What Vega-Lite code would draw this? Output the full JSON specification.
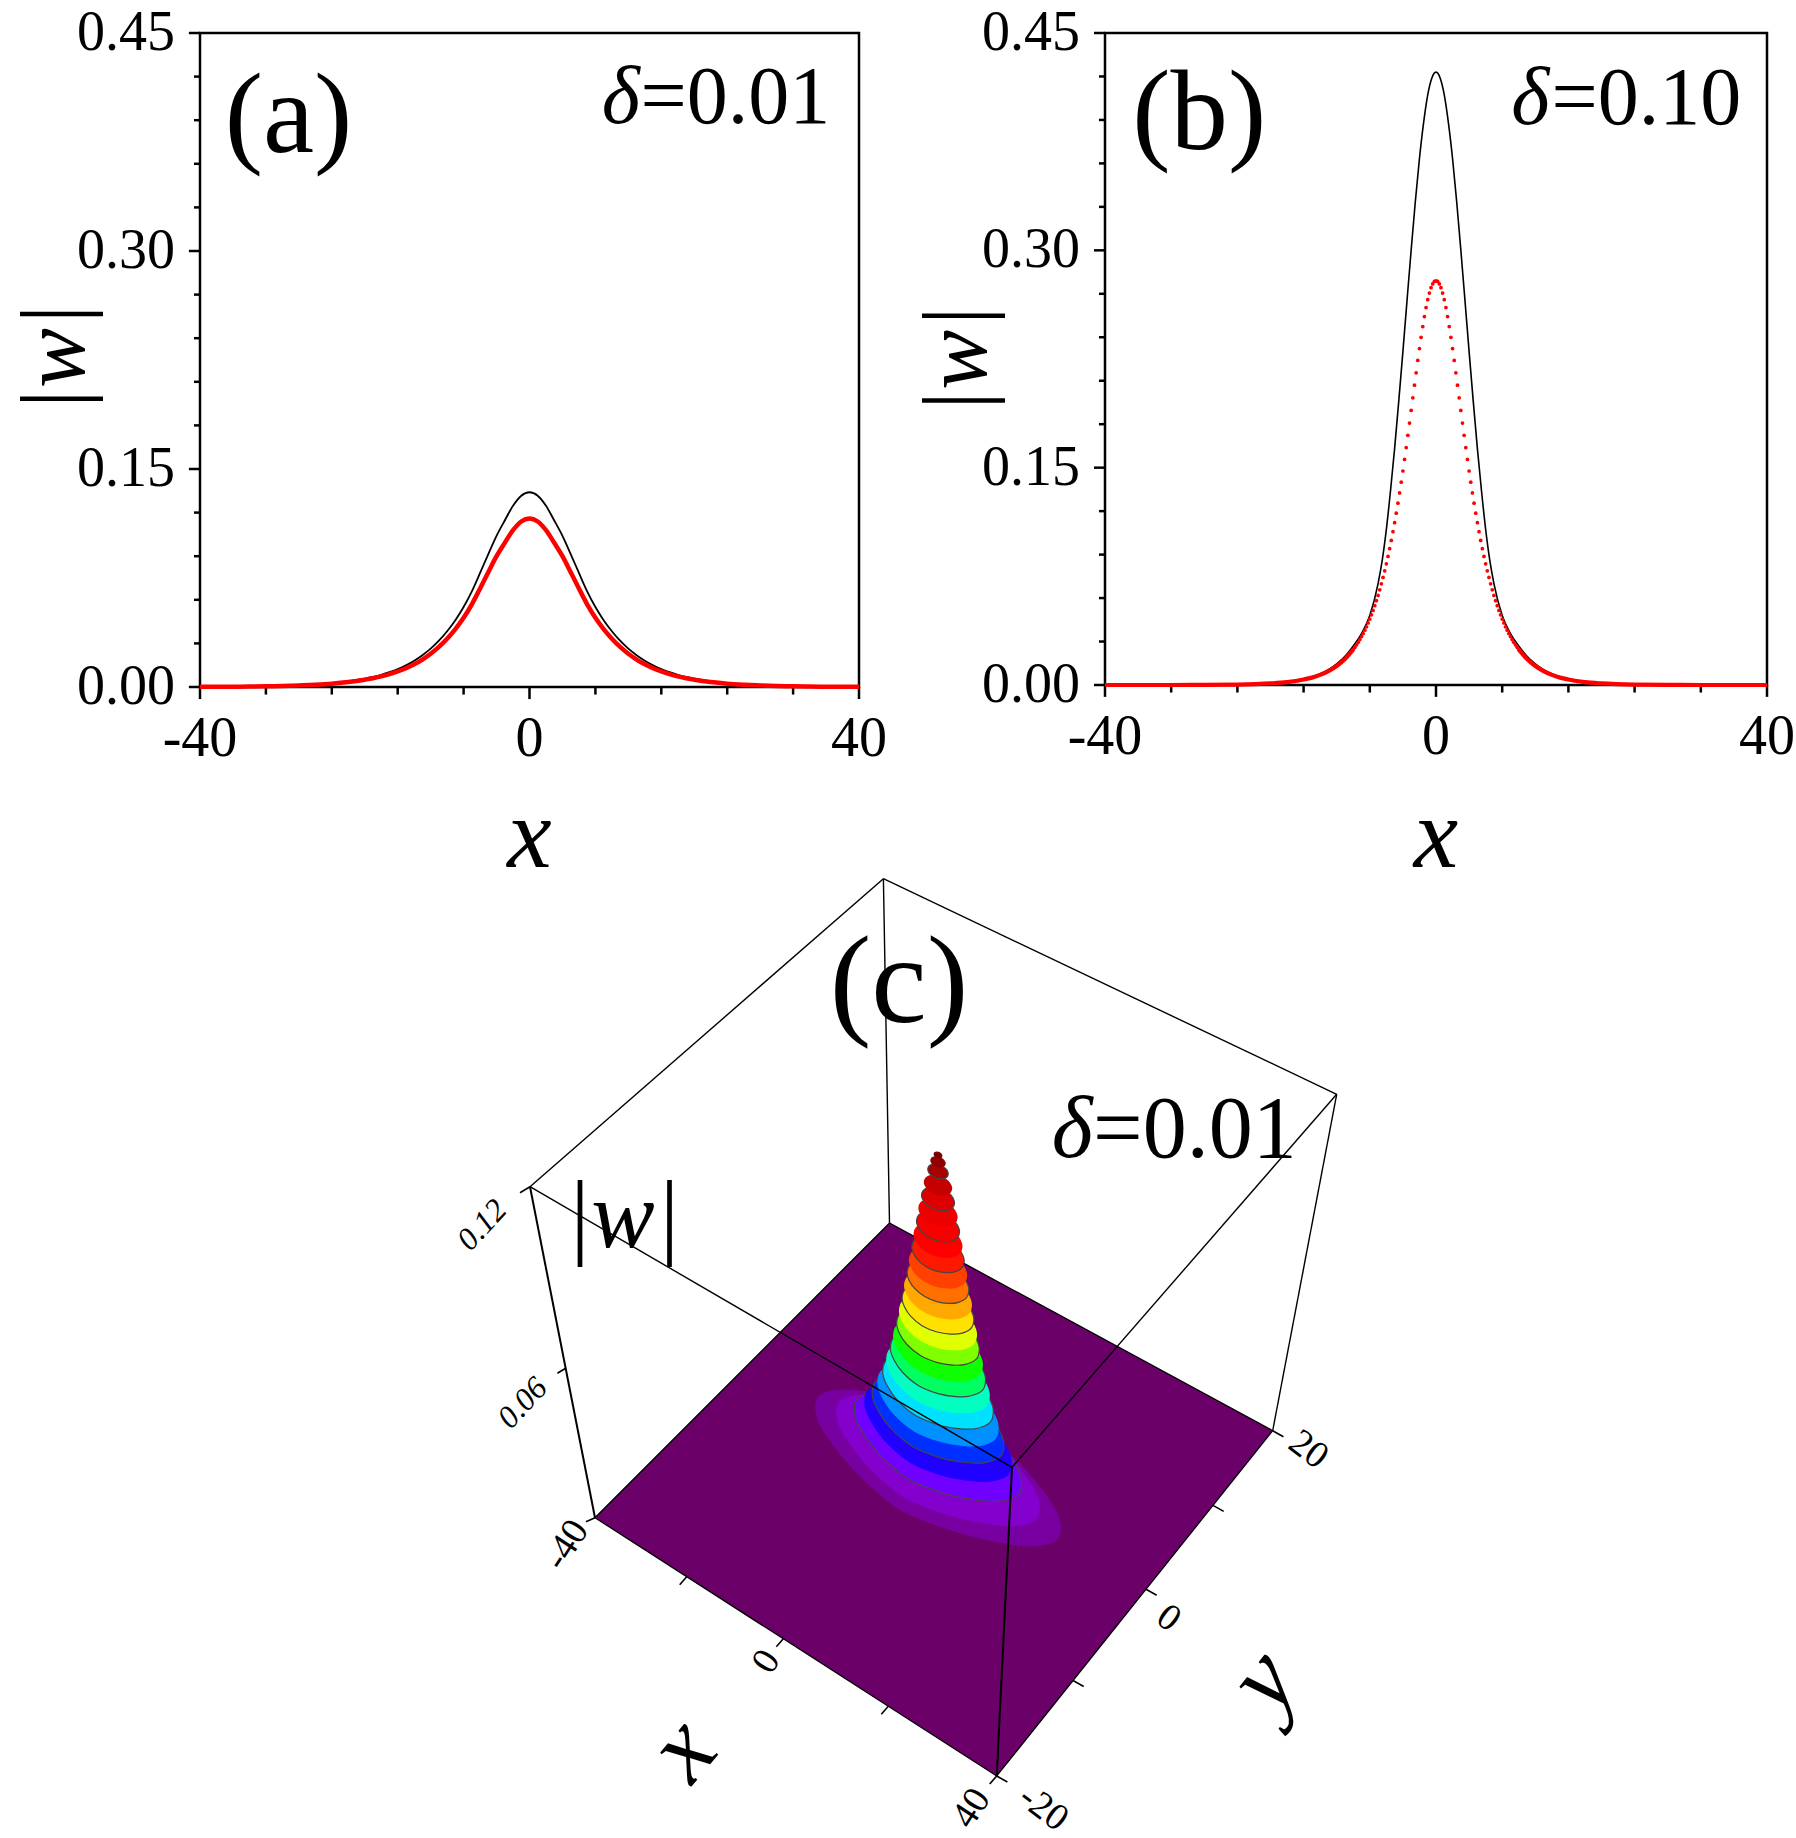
{
  "$schema": "https://vega.github.io/schema/vega-lite/v6.json",
  "width": 1796,
  "height": 1838,
  "autosize": {"type": "none"},
  "padding": 0,
  "background": "white",
  "config": {
    "view": {"stroke": null},
    "text": {"font": "Liberation Serif", "color": "#000"}
  },
  "datasets": {
    "one": [{"n": 1}],
    "majY": [{"y":0},{"y":0.15},{"y":0.3},{"y":0.45}],
    "majX": [{"x":-40,"l":"-40"},{"x":0,"l":"0"},{"x":40,"l":"40"}],
    "minorY": [{"y":0.03},{"y":0.06},{"y":0.09},{"y":0.12},{"y":0.18},{"y":0.21},{"y":0.24},{"y":0.27},{"y":0.33},{"y":0.36},{"y":0.39},{"y":0.42}],
    "minorX": [{"x":-32},{"x":-24},{"x":-16},{"x":-8},{"x":8},{"x":16},{"x":24},{"x":32}],
    "a": [
      {"x":-40,"b":0.0001,"r":0.0001},{"x":-38,"b":0.0002,"r":0.0002},{"x":-36,"b":0.0003,"r":0.0002},{"x":-34,"b":0.0004,"r":0.0003},
      {"x":-32,"b":0.0006,"r":0.0005},{"x":-30,"b":0.0008,"r":0.0007},{"x":-28,"b":0.0012,"r":0.0011},{"x":-26,"b":0.0018,"r":0.0016},
      {"x":-24,"b":0.0027,"r":0.0023},{"x":-22,"b":0.0039,"r":0.0034},{"x":-20,"b":0.0057,"r":0.005},{"x":-19,"b":0.0069,"r":0.006},
      {"x":-18,"b":0.0084,"r":0.0073},{"x":-17,"b":0.0102,"r":0.0088},{"x":-16,"b":0.0123,"r":0.0107},{"x":-15,"b":0.0149,"r":0.0129},
      {"x":-14,"b":0.0181,"r":0.0156},{"x":-13,"b":0.0219,"r":0.0189},{"x":-12,"b":0.0264,"r":0.0229},{"x":-11,"b":0.0319,"r":0.0276},
      {"x":-10,"b":0.0384,"r":0.0332},{"x":-9,"b":0.046,"r":0.0398},{"x":-8,"b":0.055,"r":0.0476},{"x":-7,"b":0.0658,"r":0.0569},
      {"x":-6,"b":0.0785,"r":0.0678},{"x":-5,"b":0.0915,"r":0.079},{"x":-4,"b":0.104,"r":0.09},{"x":-3,"b":0.1146,"r":0.0992},
      {"x":-2,"b":0.1247,"r":0.1079},{"x":-1,"b":0.1316,"r":0.1139},{"x":0,"b":0.134,"r":0.116},
      {"x":1,"b":0.1316,"r":0.1139},{"x":2,"b":0.1247,"r":0.1079},{"x":3,"b":0.1146,"r":0.0992},{"x":4,"b":0.104,"r":0.09},
      {"x":5,"b":0.0915,"r":0.079},{"x":6,"b":0.0785,"r":0.0678},{"x":7,"b":0.0658,"r":0.0569},{"x":8,"b":0.055,"r":0.0476},
      {"x":9,"b":0.046,"r":0.0398},{"x":10,"b":0.0384,"r":0.0332},{"x":11,"b":0.0319,"r":0.0276},{"x":12,"b":0.0264,"r":0.0229},
      {"x":13,"b":0.0219,"r":0.0189},{"x":14,"b":0.0181,"r":0.0156},{"x":15,"b":0.0149,"r":0.0129},{"x":16,"b":0.0123,"r":0.0107},
      {"x":17,"b":0.0102,"r":0.0088},{"x":18,"b":0.0084,"r":0.0073},{"x":19,"b":0.0069,"r":0.006},{"x":20,"b":0.0057,"r":0.005},
      {"x":22,"b":0.0039,"r":0.0034},{"x":24,"b":0.0027,"r":0.0023},{"x":26,"b":0.0018,"r":0.0016},{"x":28,"b":0.0012,"r":0.0011},
      {"x":30,"b":0.0008,"r":0.0007},{"x":32,"b":0.0006,"r":0.0005},{"x":34,"b":0.0004,"r":0.0003},{"x":36,"b":0.0003,"r":0.0002},
      {"x":38,"b":0.0002,"r":0.0002},{"x":40,"b":0.0001,"r":0.0001}
    ],
    "bb": [
      {"x":-40,"b":0},{"x":-36,"b":0},{"x":-32,"b":0},{"x":-28,"b":0.0001},{"x":-24,"b":0.0003},{"x":-20,"b":0.0012},
      {"x":-18,"b":0.0022},{"x":-16,"b":0.0041},{"x":-15,"b":0.0056},{"x":-14,"b":0.0077},{"x":-13,"b":0.0105},{"x":-12,"b":0.0145},
      {"x":-11,"b":0.0198},{"x":-10,"b":0.027},{"x":-9,"b":0.0355},{"x":-8,"b":0.048},{"x":-7,"b":0.07},{"x":-6.5,"b":0.086},
      {"x":-6,"b":0.1074},{"x":-5.5,"b":0.1339},{"x":-5,"b":0.1633},{"x":-4.5,"b":0.1959},{"x":-4,"b":0.2301},{"x":-3.5,"b":0.2655},
      {"x":-3,"b":0.3003},{"x":-2.5,"b":0.3335},{"x":-2,"b":0.3634},{"x":-1.5,"b":0.388},{"x":-1,"b":0.4073},{"x":-0.5,"b":0.419},
      {"x":0,"b":0.423},
      {"x":0.5,"b":0.419},{"x":1,"b":0.4073},{"x":1.5,"b":0.388},{"x":2,"b":0.3634},{"x":2.5,"b":0.3335},{"x":3,"b":0.3003},
      {"x":3.5,"b":0.2655},{"x":4,"b":0.2301},{"x":4.5,"b":0.1959},{"x":5,"b":0.1633},{"x":5.5,"b":0.1339},{"x":6,"b":0.1074},
      {"x":6.5,"b":0.086},{"x":7,"b":0.07},{"x":8,"b":0.048},{"x":9,"b":0.0355},{"x":10,"b":0.027},{"x":11,"b":0.0198},
      {"x":12,"b":0.0145},{"x":13,"b":0.0105},{"x":14,"b":0.0077},{"x":15,"b":0.0056},{"x":16,"b":0.0041},{"x":18,"b":0.0022},
      {"x":20,"b":0.0012},{"x":24,"b":0.0003},{"x":28,"b":0.0001},{"x":32,"b":0},{"x":36,"b":0},{"x":40,"b":0}
    ],
    "bd": [
      {"x":-10,"r":0.0245},{"x":-9.8,"r":0.026},{"x":-9.6,"r":0.0277},{"x":-9.4,"r":0.0295},{"x":-9.2,"r":0.0314},{"x":-9,"r":0.0334},
      {"x":-8.8,"r":0.0355},{"x":-8.6,"r":0.0378},{"x":-8.4,"r":0.0402},{"x":-8.2,"r":0.0428},{"x":-8,"r":0.0455},{"x":-7.8,"r":0.0484},
      {"x":-7.6,"r":0.0515},{"x":-7.4,"r":0.0547},{"x":-7.2,"r":0.0582},{"x":-7,"r":0.0618},{"x":-6.8,"r":0.0657},{"x":-6.6,"r":0.0698},
      {"x":-6.4,"r":0.0742},{"x":-6.2,"r":0.0788},{"x":-6,"r":0.0836},{"x":-5.8,"r":0.0887},{"x":-5.6,"r":0.0941},{"x":-5.4,"r":0.0998},
      {"x":-5.2,"r":0.1058},{"x":-5,"r":0.112},{"x":-4.8,"r":0.1186},{"x":-4.6,"r":0.1255},{"x":-4.4,"r":0.1326},{"x":-4.2,"r":0.14},
      {"x":-4,"r":0.1477},{"x":-3.8,"r":0.1557},{"x":-3.6,"r":0.1639},{"x":-3.4,"r":0.1723},{"x":-3.2,"r":0.1808},{"x":-3,"r":0.1895},
      {"x":-2.8,"r":0.1982},{"x":-2.6,"r":0.2069},{"x":-2.4,"r":0.2155},{"x":-2.2,"r":0.224},{"x":-2,"r":0.2322},{"x":-1.8,"r":0.24},
      {"x":-1.6,"r":0.2474},{"x":-1.4,"r":0.2543},{"x":-1.2,"r":0.2605},{"x":-1,"r":0.2659},{"x":-0.8,"r":0.2705},{"x":-0.6,"r":0.2742},
      {"x":-0.4,"r":0.2768},{"x":-0.2,"r":0.2785},{"x":0,"r":0.279},
      {"x":0.2,"r":0.2785},{"x":0.4,"r":0.2768},{"x":0.6,"r":0.2742},{"x":0.8,"r":0.2705},{"x":1,"r":0.2659},{"x":1.2,"r":0.2605},
      {"x":1.4,"r":0.2543},{"x":1.6,"r":0.2474},{"x":1.8,"r":0.24},{"x":2,"r":0.2322},{"x":2.2,"r":0.224},{"x":2.4,"r":0.2155},
      {"x":2.6,"r":0.2069},{"x":2.8,"r":0.1982},{"x":3,"r":0.1895},{"x":3.2,"r":0.1808},{"x":3.4,"r":0.1723},{"x":3.6,"r":0.1639},
      {"x":3.8,"r":0.1557},{"x":4,"r":0.1477},{"x":4.2,"r":0.14},{"x":4.4,"r":0.1326},{"x":4.6,"r":0.1255},{"x":4.8,"r":0.1186},
      {"x":5,"r":0.112},{"x":5.2,"r":0.1058},{"x":5.4,"r":0.0998},{"x":5.6,"r":0.0941},{"x":5.8,"r":0.0887},{"x":6,"r":0.0836},
      {"x":6.2,"r":0.0788},{"x":6.4,"r":0.0742},{"x":6.6,"r":0.0698},{"x":6.8,"r":0.0657},{"x":7,"r":0.0618},{"x":7.2,"r":0.0582},
      {"x":7.4,"r":0.0547},{"x":7.6,"r":0.0515},{"x":7.8,"r":0.0484},{"x":8,"r":0.0455},{"x":8.2,"r":0.0428},{"x":8.4,"r":0.0402},
      {"x":8.6,"r":0.0378},{"x":8.8,"r":0.0355},{"x":9,"r":0.0334},{"x":9.2,"r":0.0314},{"x":9.4,"r":0.0295},{"x":9.6,"r":0.0277},
      {"x":9.8,"r":0.026},{"x":10,"r":0.0245}
    ],
    "bt": [
      {"s":"L","x":-40,"r":0},{"s":"L","x":-36,"r":0},{"s":"L","x":-32,"r":0},{"s":"L","x":-28,"r":0.0001},{"s":"L","x":-24,"r":0.0003},
      {"s":"L","x":-20,"r":0.0011},{"s":"L","x":-18,"r":0.002},{"s":"L","x":-16,"r":0.0038},{"s":"L","x":-15,"r":0.0051},{"s":"L","x":-14,"r":0.007},
      {"s":"L","x":-13,"r":0.0096},{"s":"L","x":-12,"r":0.0131},{"s":"L","x":-11,"r":0.0179},{"s":"L","x":-10,"r":0.0245},
      {"s":"R","x":10,"r":0.0245},{"s":"R","x":11,"r":0.0179},{"s":"R","x":12,"r":0.0131},{"s":"R","x":13,"r":0.0096},{"s":"R","x":14,"r":0.007},
      {"s":"R","x":15,"r":0.0051},{"s":"R","x":16,"r":0.0038},{"s":"R","x":18,"r":0.002},{"s":"R","x":20,"r":0.0011},{"s":"R","x":24,"r":0.0003},
      {"s":"R","x":28,"r":0.0001},{"s":"R","x":32,"r":0},{"s":"R","x":36,"r":0},{"s":"R","x":40,"r":0}
    ],
    "floor": [
      {"u":-34.3,"v":-4.37},{"u":5.87,"v":-30.2},{"u":33.47,"v":4.33},{"u":-4.85,"v":25.1}
    ],
    "discs": [
      {"k":"01","u":11.92,"v":-6.48},{"k":"01","u":12.03,"v":-4.36},{"k":"01","u":10.6,"v":-1.91},{"k":"01","u":7.95,"v":1.21},
      {"k":"01","u":3.81,"v":4.73},{"k":"01","u":-1.58,"v":6.88},{"k":"01","u":-6.08,"v":8.01},{"k":"01","u":-9.42,"v":8.39},
      {"k":"01","u":-11.92,"v":7.69},{"k":"01","u":-12.03,"v":5.57},{"k":"01","u":-10.6,"v":3.12},{"k":"01","u":-7.95,"v":0},
      {"k":"01","u":-3.81,"v":-3.52},{"k":"01","u":1.58,"v":-5.67},{"k":"01","u":6.08,"v":-6.8},{"k":"01","u":9.42,"v":-7.18},
      {"k":"02","u":9.82,"v":-4.46},{"k":"02","u":10.02,"v":-2.6},{"k":"02","u":8.92,"v":-0.5},{"k":"02","u":6.8,"v":2.15},
      {"k":"02","u":3.39,"v":5.05},{"k":"02","u":-1.05,"v":6.82},{"k":"02","u":-4.83,"v":7.68},{"k":"02","u":-7.65,"v":7.91},
      {"k":"02","u":-9.82,"v":7.21},{"k":"02","u":-10.02,"v":5.35},{"k":"02","u":-8.92,"v":3.25},{"k":"02","u":-6.8,"v":0.6},
      {"k":"02","u":-3.39,"v":-2.3},{"k":"02","u":1.05,"v":-4.07},{"k":"02","u":4.83,"v":-4.93},{"k":"02","u":7.65,"v":-5.16},
      {"k":"03","u":8.05,"v":-2.03},{"k":"03","u":8.31,"v":-0.4},{"k":"03","u":7.48,"v":1.4},{"k":"03","u":5.79,"v":3.62},
      {"k":"03","u":3,"v":5.99},{"k":"03","u":-0.65,"v":7.45},{"k":"03","u":-3.79,"v":8.1},{"k":"03","u":-6.17,"v":8.21},
      {"k":"03","u":-8.05,"v":7.53},{"k":"03","u":-8.31,"v":5.9},{"k":"03","u":-7.48,"v":4.1},{"k":"03","u":-5.79,"v":1.88},
      {"k":"03","u":-3,"v":-0.49},{"k":"03","u":0.65,"v":-1.95},{"k":"03","u":3.79,"v":-2.6},{"k":"03","u":6.17,"v":-2.71},
      {"k":"04","u":7,"v":-0.04},{"k":"04","u":7.3,"v":1.45},{"k":"04","u":6.62,"v":3.06},{"k":"04","u":5.18,"v":5.03},
      {"k":"04","u":2.74,"v":7.09},{"k":"04","u":-0.43,"v":8.36},{"k":"04","u":-3.19,"v":8.9},{"k":"04","u":-5.31,"v":8.95},
      {"k":"04","u":-7,"v":8.29},{"k":"04","u":-7.3,"v":6.8},{"k":"04","u":-6.62,"v":5.19},{"k":"04","u":-5.18,"v":3.22},
      {"k":"04","u":-2.74,"v":1.16},{"k":"04","u":0.43,"v":-0.11},{"k":"04","u":3.19,"v":-0.65},{"k":"04","u":5.31,"v":-0.7},
      {"k":"05","u":6.26,"v":1.78},{"k":"05","u":6.57,"v":3.16},{"k":"05","u":5.99,"v":4.64},{"k":"05","u":4.72,"v":6.41},
      {"k":"05","u":2.54,"v":8.25},{"k":"05","u":-0.29,"v":9.39},{"k":"05","u":-2.77,"v":9.85},{"k":"05","u":-4.7,"v":9.87},
      {"k":"05","u":-6.26,"v":9.22},{"k":"05","u":-6.57,"v":7.84},{"k":"05","u":-5.99,"v":6.36},{"k":"05","u":-4.72,"v":4.59},
      {"k":"05","u":-2.54,"v":2.75},{"k":"05","u":0.29,"v":1.61},{"k":"05","u":2.77,"v":1.15},{"k":"05","u":4.7,"v":1.14},
      {"k":"06","u":5.68,"v":3.5},{"k":"06","u":6,"v":4.8},{"k":"06","u":5.5,"v":6.16},{"k":"06","u":4.36,"v":7.78},
      {"k":"06","u":2.37,"v":9.44},{"k":"06","u":-0.19,"v":10.48},{"k":"06","u":-2.45,"v":10.89},{"k":"06","u":-4.22,"v":10.88},
      {"k":"06","u":-5.68,"v":10.25},{"k":"06","u":-6,"v":8.95},{"k":"06","u":-5.5,"v":7.59},{"k":"06","u":-4.36,"v":5.97},
      {"k":"06","u":-2.37,"v":4.31},{"k":"06","u":0.19,"v":3.27},{"k":"06","u":2.45,"v":2.86},{"k":"06","u":4.22,"v":2.87},
      {"k":"07","u":5.2,"v":5.16},{"k":"07","u":5.53,"v":6.38},{"k":"07","u":5.09,"v":7.65},{"k":"07","u":4.05,"v":9.14},
      {"k":"07","u":2.23,"v":10.66},{"k":"07","u":-0.11,"v":11.62},{"k":"07","u":-2.2,"v":11.98},{"k":"07","u":-3.84,"v":11.95},
      {"k":"07","u":-5.2,"v":11.34},{"k":"07","u":-5.53,"v":10.12},{"k":"07","u":-5.09,"v":8.85},{"k":"07","u":-4.05,"v":7.36},
      {"k":"07","u":-2.23,"v":5.84},{"k":"07","u":0.11,"v":4.89},{"k":"07","u":2.2,"v":4.52},{"k":"07","u":3.84,"v":4.55},
      {"k":"08","u":4.79,"v":6.78},{"k":"08","u":5.12,"v":7.93},{"k":"08","u":4.73,"v":9.12},{"k":"08","u":3.78,"v":10.5},
      {"k":"08","u":2.1,"v":11.9},{"k":"08","u":-0.06,"v":12.78},{"k":"08","u":-1.98,"v":13.11},{"k":"08","u":-3.51,"v":13.06},
      {"k":"08","u":-4.79,"v":12.48},{"k":"08","u":-5.12,"v":11.32},{"k":"08","u":-4.73,"v":10.14},{"k":"08","u":-3.78,"v":8.75},
      {"k":"08","u":-2.1,"v":7.36},{"k":"08","u":0.06,"v":6.47},{"k":"08","u":1.98,"v":6.15},{"k":"08","u":3.51,"v":6.19},
      {"k":"09","u":4.43,"v":8.36},{"k":"09","u":4.76,"v":9.46},{"k":"09","u":4.41,"v":10.57},{"k":"09","u":3.53,"v":11.85},
      {"k":"09","u":1.98,"v":13.14},{"k":"09","u":-0.01,"v":13.96},{"k":"09","u":-1.8,"v":14.26},{"k":"09","u":-3.22,"v":14.2},
      {"k":"09","u":-4.43,"v":13.64},{"k":"09","u":-4.76,"v":12.54},{"k":"09","u":-4.41,"v":11.43},{"k":"09","u":-3.53,"v":10.15},
      {"k":"09","u":-1.98,"v":8.86},{"k":"09","u":0.01,"v":8.04},{"k":"09","u":1.8,"v":7.74},{"k":"09","u":3.22,"v":7.8},
      {"k":"10","u":4.11,"v":9.93},{"k":"10","u":4.43,"v":10.97},{"k":"10","u":4.12,"v":12.01},{"k":"10","u":3.31,"v":13.2},
      {"k":"10","u":1.87,"v":14.4},{"k":"10","u":0.02,"v":15.16},{"k":"10","u":-1.64,"v":15.43},{"k":"10","u":-2.97,"v":15.37},
      {"k":"10","u":-4.11,"v":14.82},{"k":"10","u":-4.43,"v":13.78},{"k":"10","u":-4.12,"v":12.74},{"k":"10","u":-3.31,"v":11.55},
      {"k":"10","u":-1.87,"v":10.36},{"k":"10","u":-0.02,"v":9.59},{"k":"10","u":1.64,"v":9.32},{"k":"10","u":2.97,"v":9.39},
      {"k":"11","u":3.82,"v":11.48},{"k":"11","u":4.13,"v":12.46},{"k":"11","u":3.85,"v":13.44},{"k":"11","u":3.1,"v":14.55},
      {"k":"11","u":1.76,"v":15.66},{"k":"11","u":0.05,"v":16.36},{"k":"11","u":-1.49,"v":16.61},{"k":"11","u":-2.74,"v":16.55},
      {"k":"11","u":-3.82,"v":16.02},{"k":"11","u":-4.13,"v":15.04},{"k":"11","u":-3.85,"v":14.06},{"k":"11","u":-3.1,"v":12.95},
      {"k":"11","u":-1.76,"v":11.85},{"k":"11","u":-0.05,"v":11.14},{"k":"11","u":1.49,"v":10.89},{"k":"11","u":2.74,"v":10.96},
      {"k":"12","u":3.54,"v":13.02},{"k":"12","u":3.85,"v":13.95},{"k":"12","u":3.6,"v":14.86},{"k":"12","u":2.91,"v":15.89},
      {"k":"12","u":1.66,"v":16.92},{"k":"12","u":0.07,"v":17.58},{"k":"12","u":-1.36,"v":17.81},{"k":"12","u":-2.53,"v":17.74},
      {"k":"12","u":-3.54,"v":17.23},{"k":"12","u":-3.85,"v":16.3},{"k":"12","u":-3.6,"v":15.39},{"k":"12","u":-2.91,"v":14.36},
      {"k":"12","u":-1.66,"v":13.33},{"k":"12","u":-0.07,"v":12.67},{"k":"12","u":1.36,"v":12.44},{"k":"12","u":2.53,"v":12.51},
      {"k":"13","u":3.29,"v":14.55},{"k":"13","u":3.59,"v":15.42},{"k":"13","u":3.36,"v":16.28},{"k":"13","u":2.72,"v":17.24},
      {"k":"13","u":1.56,"v":18.19},{"k":"13","u":0.09,"v":18.8},{"k":"13","u":-1.24,"v":19.02},{"k":"13","u":-2.33,"v":18.94},
      {"k":"13","u":-3.29,"v":18.46},{"k":"13","u":-3.59,"v":17.58},{"k":"13","u":-3.36,"v":16.72},{"k":"13","u":-2.72,"v":15.76},
      {"k":"13","u":-1.56,"v":14.81},{"k":"13","u":-0.09,"v":14.2},{"k":"13","u":1.24,"v":13.99},{"k":"13","u":2.33,"v":14.06},
      {"k":"14","u":3.05,"v":16.06},{"k":"14","u":3.34,"v":16.89},{"k":"14","u":3.13,"v":17.69},{"k":"14","u":2.54,"v":18.58},
      {"k":"14","u":1.46,"v":19.46},{"k":"14","u":0.1,"v":20.03},{"k":"14","u":-1.13,"v":20.22},{"k":"14","u":-2.15,"v":20.15},
      {"k":"14","u":-3.05,"v":19.69},{"k":"14","u":-3.34,"v":18.86},{"k":"14","u":-3.13,"v":18.06},{"k":"14","u":-2.54,"v":17.17},
      {"k":"14","u":-1.46,"v":16.29},{"k":"14","u":-0.1,"v":15.72},{"k":"14","u":1.13,"v":15.53},{"k":"14","u":2.15,"v":15.6},
      {"k":"15","u":2.81,"v":17.58},{"k":"15","u":3.09,"v":18.35},{"k":"15","u":2.91,"v":19.09},{"k":"15","u":2.36,"v":19.92},
      {"k":"15","u":1.37,"v":20.73},{"k":"15","u":0.11,"v":21.26},{"k":"15","u":-1.03,"v":21.44},{"k":"15","u":-1.97,"v":21.36},
      {"k":"15","u":-2.81,"v":20.92},{"k":"15","u":-3.09,"v":20.15},{"k":"15","u":-2.91,"v":19.41},{"k":"15","u":-2.36,"v":18.58},
      {"k":"15","u":-1.37,"v":17.77},{"k":"15","u":-0.11,"v":17.24},{"k":"15","u":1.03,"v":17.06},{"k":"15","u":1.97,"v":17.14},
      {"k":"16","u":2.59,"v":19.09},{"k":"16","u":2.86,"v":19.81},{"k":"16","u":2.69,"v":20.5},{"k":"16","u":2.19,"v":21.26},
      {"k":"16","u":1.27,"v":22},{"k":"16","u":0.12,"v":22.49},{"k":"16","u":-0.94,"v":22.65},{"k":"16","u":-1.81,"v":22.58},
      {"k":"16","u":-2.59,"v":22.17},{"k":"16","u":-2.86,"v":21.44},{"k":"16","u":-2.69,"v":20.75},{"k":"16","u":-2.19,"v":19.99},
      {"k":"16","u":-1.27,"v":19.25},{"k":"16","u":-0.12,"v":18.76},{"k":"16","u":0.94,"v":18.6},{"k":"16","u":1.81,"v":18.67},
      {"k":"17","u":2.37,"v":20.59},{"k":"17","u":2.62,"v":21.26},{"k":"17","u":2.47,"v":21.9},{"k":"17","u":2.02,"v":22.59},
      {"k":"17","u":1.18,"v":23.27},{"k":"17","u":0.12,"v":23.72},{"k":"17","u":-0.84,"v":23.87},{"k":"17","u":-1.64,"v":23.8},
      {"k":"17","u":-2.37,"v":23.41},{"k":"17","u":-2.62,"v":22.74},{"k":"17","u":-2.47,"v":22.1},{"k":"17","u":-2.02,"v":21.41},
      {"k":"17","u":-1.18,"v":20.73},{"k":"17","u":-0.12,"v":20.28},{"k":"17","u":0.84,"v":20.13},{"k":"17","u":1.64,"v":20.2},
      {"k":"18","u":2.15,"v":22.1},{"k":"18","u":2.39,"v":22.71},{"k":"18","u":2.26,"v":23.29},{"k":"18","u":1.84,"v":23.93},
      {"k":"18","u":1.08,"v":24.54},{"k":"18","u":0.12,"v":24.95},{"k":"18","u":-0.76,"v":25.08},{"k":"18","u":-1.49,"v":25.02},
      {"k":"18","u":-2.15,"v":24.66},{"k":"18","u":-2.39,"v":24.04},{"k":"18","u":-2.26,"v":23.46},{"k":"18","u":-1.84,"v":22.83},
      {"k":"18","u":-1.08,"v":22.21},{"k":"18","u":-0.12,"v":21.8},{"k":"18","u":0.76,"v":21.67},{"k":"18","u":1.49,"v":21.73},
      {"k":"19","u":1.93,"v":23.6},{"k":"19","u":2.15,"v":24.16},{"k":"19","u":2.04,"v":24.69},{"k":"19","u":1.66,"v":25.25},
      {"k":"19","u":0.98,"v":25.81},{"k":"19","u":0.12,"v":26.17},{"k":"19","u":-0.67,"v":26.29},{"k":"19","u":-1.33,"v":26.23},
      {"k":"19","u":-1.93,"v":25.9},{"k":"19","u":-2.15,"v":25.34},{"k":"19","u":-2.04,"v":24.81},{"k":"19","u":-1.66,"v":24.25},
      {"k":"19","u":-0.98,"v":23.69},{"k":"19","u":-0.12,"v":23.33},{"k":"19","u":0.67,"v":23.21},{"k":"19","u":1.33,"v":23.27},
      {"k":"20","u":1.71,"v":25.11},{"k":"20","u":1.9,"v":25.61},{"k":"20","u":1.81,"v":26.08},{"k":"20","u":1.48,"v":26.58},
      {"k":"20","u":0.87,"v":27.07},{"k":"20","u":0.11,"v":27.39},{"k":"20","u":-0.58,"v":27.5},{"k":"20","u":-1.17,"v":27.44},
      {"k":"20","u":-1.71,"v":27.14},{"k":"20","u":-1.9,"v":26.64},{"k":"20","u":-1.81,"v":26.17},{"k":"20","u":-1.48,"v":25.67},
      {"k":"20","u":-0.87,"v":25.18},{"k":"20","u":-0.11,"v":24.86},{"k":"20","u":0.58,"v":24.75},{"k":"20","u":1.17,"v":24.81},
      {"k":"21","u":1.47,"v":26.63},{"k":"21","u":1.65,"v":27.06},{"k":"21","u":1.56,"v":27.47},{"k":"21","u":1.28,"v":27.9},
      {"k":"21","u":0.76,"v":28.32},{"k":"21","u":0.1,"v":28.6},{"k":"21","u":-0.49,"v":28.69},{"k":"21","u":-1,"v":28.64},
      {"k":"21","u":-1.47,"v":28.37},{"k":"21","u":-1.65,"v":27.94},{"k":"21","u":-1.56,"v":27.53},{"k":"21","u":-1.28,"v":27.1},
      {"k":"21","u":-0.76,"v":26.68},{"k":"21","u":-0.1,"v":26.4},{"k":"21","u":0.49,"v":26.31},{"k":"21","u":1,"v":26.36},
      {"k":"22","u":1.21,"v":28.16},{"k":"22","u":1.36,"v":28.52},{"k":"22","u":1.29,"v":28.85},{"k":"22","u":1.06,"v":29.21},
      {"k":"22","u":0.63,"v":29.56},{"k":"22","u":0.09,"v":29.78},{"k":"22","u":-0.4,"v":29.86},{"k":"22","u":-0.82,"v":29.81},
      {"k":"22","u":-1.21,"v":29.59},{"k":"22","u":-1.36,"v":29.23},{"k":"22","u":-1.29,"v":28.9},{"k":"22","u":-1.06,"v":28.54},
      {"k":"22","u":-0.63,"v":28.2},{"k":"22","u":-0.09,"v":27.97},{"k":"22","u":0.4,"v":27.89},{"k":"22","u":0.82,"v":27.94},
      {"k":"23","u":0.91,"v":29.71},{"k":"23","u":1.02,"v":29.99},{"k":"23","u":0.97,"v":30.24},{"k":"23","u":0.8,"v":30.51},
      {"k":"23","u":0.48,"v":30.76},{"k":"23","u":0.07,"v":30.94},{"k":"23","u":-0.3,"v":30.99},{"k":"23","u":-0.61,"v":30.96},
      {"k":"23","u":-0.91,"v":30.79},{"k":"23","u":-1.02,"v":30.51},{"k":"23","u":-0.97,"v":30.26},{"k":"23","u":-0.8,"v":30},
      {"k":"23","u":-0.48,"v":29.74},{"k":"23","u":-0.07,"v":29.57},{"k":"23","u":0.3,"v":29.51},{"k":"23","u":0.61,"v":29.54},
      {"k":"24","u":0.63,"v":30.84},{"k":"24","u":0.71,"v":31.03},{"k":"24","u":0.68,"v":31.2},{"k":"24","u":0.56,"v":31.39},
      {"k":"24","u":0.33,"v":31.57},{"k":"24","u":0.05,"v":31.69},{"k":"24","u":-0.21,"v":31.73},{"k":"24","u":-0.42,"v":31.7},
      {"k":"24","u":-0.63,"v":31.59},{"k":"24","u":-0.71,"v":31.39},{"k":"24","u":-0.68,"v":31.22},{"k":"24","u":-0.56,"v":31.03},
      {"k":"24","u":-0.33,"v":30.85},{"k":"24","u":-0.05,"v":30.73},{"k":"24","u":0.21,"v":30.69},{"k":"24","u":0.42,"v":30.72},
      {"k":"25","u":0.34,"v":31.7},{"k":"25","u":0.38,"v":31.8},{"k":"25","u":0.36,"v":31.9},{"k":"25","u":0.3,"v":32},
      {"k":"25","u":0.18,"v":32.09},{"k":"25","u":0.03,"v":32.16},{"k":"25","u":-0.11,"v":32.18},{"k":"25","u":-0.22,"v":32.16},
      {"k":"25","u":-0.34,"v":32.1},{"k":"25","u":-0.38,"v":32},{"k":"25","u":-0.36,"v":31.9},{"k":"25","u":-0.3,"v":31.81},
      {"k":"25","u":-0.18,"v":31.71},{"k":"25","u":-0.03,"v":31.65},{"k":"25","u":0.11,"v":31.62},{"k":"25","u":0.22,"v":31.64}
    ],
    "e1": [
      {"u":-5.46,"v":59.53,"u2":-40.8,"v2":28.73},
      {"u":-5.46,"v":59.53,"u2":39.87,"v2":37.97},
      {"u":-4.85,"v":25.1,"u2":-5.46,"v2":59.53},
      {"u":33.47,"v":4.33,"u2":39.87,"v2":37.97},
      {"u":-40.8,"v":28.73,"u2":7.4,"v2":0.67},
      {"u":39.87,"v":37.97,"u2":7.4,"v2":0.67}
    ],
    "e2": [
      {"u":-34.3,"v":-4.37,"u2":-40.8,"v2":28.73},
      {"u":5.87,"v":-30.2,"u2":7.4,"v2":0.67}
    ],
    "ticks": [
      {"u":-34.3,"v":-4.37,"u2":-35.2,"v2":-4.77},
      {"u":-25.13,"v":-10.27,"u2":-25.83,"v2":-11.07},
      {"u":-15.47,"v":-16.48,"u2":-16.17,"v2":-17.28},
      {"u":-4.97,"v":-23.23,"u2":-5.67,"v2":-24.03},
      {"u":5.87,"v":-30.2,"u2":5.17,"v2":-31},
      {"u":5.87,"v":-30.2,"u2":6.94,"v2":-30.8},
      {"u":13.5,"v":-20.65,"u2":14.57,"v2":-21.25},
      {"u":20.8,"v":-11.52,"u2":21.87,"v2":-12.12},
      {"u":27.5,"v":-3.14,"u2":28.57,"v2":-3.74},
      {"u":33.47,"v":4.33,"u2":34.54,"v2":3.73},
      {"u":-37.23,"v":10.57,"u2":-38.06,"v2":10.07},
      {"u":-40.8,"v":28.73,"u2":-41.8,"v2":28.13}
    ],
    "xl": [{"t":"-40","u":-37.13,"v":-7.1},{"t":"0","u":-17.13,"v":-18.77},{"t":"40","u":3.37,"v":-33.43}],
    "yl": [{"t":"-20","u":10.53,"v":-33.43},{"t":"0","u":23.05,"v":-14.45},{"t":"20","u":37.03,"v":2.4}],
    "zl": [{"t":"0.12","u":-45.6,"v":24.9},{"t":"0.06","u":-41.55,"v":7.1}]
  },
  "layer": [
    {
      "layer": [
        {
          "data": {"name": "a"},
          "mark": {"type": "line", "color": "#000", "strokeWidth": 1.8, "interpolate": "monotone"},
          "encoding": {
            "x": {"field": "x", "type": "quantitative", "scale": {"domain": [-40, 40], "range": [200, 859], "nice": false, "zero": false}, "axis": null},
            "y": {"field": "b", "type": "quantitative", "scale": {"domain": [0, 0.45], "range": [687, 33], "nice": false, "zero": false}, "axis": null}
          }
        },
        {
          "data": {"name": "one"},
          "mark": {"type": "rect", "filled": false, "stroke": "#000", "strokeWidth": 2.5},
          "encoding": {"x": {"datum": -40, "type": "quantitative"}, "x2": {"datum": 40}, "y": {"datum": 0, "type": "quantitative"}, "y2": {"datum": 0.45}}
        },
        {
          "data": {"name": "minorY"},
          "mark": {"type": "rule", "color": "#000", "strokeWidth": 2.5},
          "encoding": {"x": {"datum": -40, "type": "quantitative"}, "x2": {"datum": -40.73}, "y": {"field": "y", "type": "quantitative"}}
        },
        {
          "data": {"name": "majY"},
          "mark": {"type": "rule", "color": "#000", "strokeWidth": 2.5},
          "encoding": {"x": {"datum": -40, "type": "quantitative"}, "x2": {"datum": -41.35}, "y": {"field": "y", "type": "quantitative"}}
        },
        {
          "data": {"name": "minorX"},
          "mark": {"type": "rule", "color": "#000", "strokeWidth": 2.5},
          "encoding": {"x": {"field": "x", "type": "quantitative"}, "y": {"datum": 0, "type": "quantitative"}, "y2": {"datum": -0.0052}}
        },
        {
          "data": {"name": "majX"},
          "mark": {"type": "rule", "color": "#000", "strokeWidth": 2.5},
          "encoding": {"x": {"field": "x", "type": "quantitative"}, "y": {"datum": 0, "type": "quantitative"}, "y2": {"datum": -0.0083}}
        },
        {
          "data": {"name": "majY"},
          "mark": {"type": "text", "fontSize": 56, "align": "right", "baseline": "middle", "dx": -25},
          "encoding": {"x": {"datum": -40, "type": "quantitative"}, "y": {"field": "y", "type": "quantitative"}, "text": {"field": "y", "type": "quantitative", "format": ".2f"}}
        },
        {
          "data": {"name": "majX"},
          "mark": {"type": "text", "fontSize": 56, "align": "center", "baseline": "top", "dy": 25},
          "encoding": {"x": {"field": "x", "type": "quantitative"}, "y": {"datum": 0, "type": "quantitative"}, "text": {"field": "l"}}
        },
        {
          "data": {"name": "one"},
          "mark": {"type": "text", "text": "x", "fontSize": 100, "fontStyle": "italic", "align": "center", "baseline": "alphabetic"},
          "encoding": {"x": {"datum": 0, "type": "quantitative"}, "y": {"datum": -0.1239, "type": "quantitative"}}
        },
        {
          "data": {"name": "one"},
          "mark": {"type": "text", "text": "|w|", "fontSize": 90, "fontStyle": "italic", "align": "center", "baseline": "middle", "angle": -90},
          "encoding": {"x": {"datum": -57.3, "type": "quantitative"}, "y": {"datum": 0.2264, "type": "quantitative"}}
        },
        {
          "data": {"name": "a"},
          "mark": {"type": "line", "color": "#ff0000", "strokeWidth": 4.5, "interpolate": "monotone"},
          "encoding": {"x": {"field": "x", "type": "quantitative"}, "y": {"field": "r", "type": "quantitative"}}
        },
        {
          "data": {"name": "one"},
          "mark": {"type": "text", "text": "(a)", "fontSize": 115, "align": "left", "baseline": "alphabetic"},
          "encoding": {"x": {"datum": -37, "type": "quantitative"}, "y": {"datum": 0.368, "type": "quantitative"}}
        },
        {
          "data": {"name": "one"},
          "mark": {"type": "text", "text": "δ", "fontSize": 82, "fontStyle": "italic", "align": "right", "baseline": "alphabetic"},
          "encoding": {"x": {"datum": 13.4, "type": "quantitative"}, "y": {"datum": 0.388, "type": "quantitative"}}
        },
        {
          "data": {"name": "one"},
          "mark": {"type": "text", "text": "=0.01", "fontSize": 82, "align": "right", "baseline": "alphabetic"},
          "encoding": {"x": {"datum": 36.5, "type": "quantitative"}, "y": {"datum": 0.388, "type": "quantitative"}}
        }
      ]
    },
    {
      "layer": [
        {
          "data": {"name": "bb"},
          "mark": {"type": "line", "color": "#000", "strokeWidth": 1.6, "interpolate": "monotone"},
          "encoding": {
            "x": {"field": "x", "type": "quantitative", "scale": {"domain": [-40, 40], "range": [1105, 1767], "nice": false, "zero": false}, "axis": null},
            "y": {"field": "b", "type": "quantitative", "scale": {"domain": [0, 0.45], "range": [685, 33], "nice": false, "zero": false}, "axis": null}
          }
        },
        {
          "data": {"name": "one"},
          "mark": {"type": "rect", "filled": false, "stroke": "#000", "strokeWidth": 2.5},
          "encoding": {"x": {"datum": -40, "type": "quantitative"}, "x2": {"datum": 40}, "y": {"datum": 0, "type": "quantitative"}, "y2": {"datum": 0.45}}
        },
        {
          "data": {"name": "minorY"},
          "mark": {"type": "rule", "color": "#000", "strokeWidth": 2.5},
          "encoding": {"x": {"datum": -40, "type": "quantitative"}, "x2": {"datum": -40.73}, "y": {"field": "y", "type": "quantitative"}}
        },
        {
          "data": {"name": "majY"},
          "mark": {"type": "rule", "color": "#000", "strokeWidth": 2.5},
          "encoding": {"x": {"datum": -40, "type": "quantitative"}, "x2": {"datum": -41.33}, "y": {"field": "y", "type": "quantitative"}}
        },
        {
          "data": {"name": "minorX"},
          "mark": {"type": "rule", "color": "#000", "strokeWidth": 2.5},
          "encoding": {"x": {"field": "x", "type": "quantitative"}, "y": {"datum": 0, "type": "quantitative"}, "y2": {"datum": -0.0052}}
        },
        {
          "data": {"name": "majX"},
          "mark": {"type": "rule", "color": "#000", "strokeWidth": 2.5},
          "encoding": {"x": {"field": "x", "type": "quantitative"}, "y": {"datum": 0, "type": "quantitative"}, "y2": {"datum": -0.0082}}
        },
        {
          "data": {"name": "majY"},
          "mark": {"type": "text", "fontSize": 56, "align": "right", "baseline": "middle", "dx": -25},
          "encoding": {"x": {"datum": -40, "type": "quantitative"}, "y": {"field": "y", "type": "quantitative"}, "text": {"field": "y", "type": "quantitative", "format": ".2f"}}
        },
        {
          "data": {"name": "majX"},
          "mark": {"type": "text", "fontSize": 56, "align": "center", "baseline": "top", "dy": 25},
          "encoding": {"x": {"field": "x", "type": "quantitative"}, "y": {"datum": 0, "type": "quantitative"}, "text": {"field": "l"}}
        },
        {
          "data": {"name": "one"},
          "mark": {"type": "text", "text": "x", "fontSize": 100, "fontStyle": "italic", "align": "center", "baseline": "alphabetic"},
          "encoding": {"x": {"datum": 0, "type": "quantitative"}, "y": {"datum": -0.1256, "type": "quantitative"}}
        },
        {
          "data": {"name": "one"},
          "mark": {"type": "text", "text": "|w|", "fontSize": 90, "fontStyle": "italic", "align": "center", "baseline": "middle", "angle": -90},
          "encoding": {"x": {"datum": -57.7, "type": "quantitative"}, "y": {"datum": 0.2245, "type": "quantitative"}}
        },
        {
          "data": {"name": "bt"},
          "mark": {"type": "line", "color": "#ff0000", "strokeWidth": 4.2, "interpolate": "monotone"},
          "encoding": {"x": {"field": "x", "type": "quantitative"}, "y": {"field": "r", "type": "quantitative"}, "detail": {"field": "s"}}
        },
        {
          "data": {"name": "bd"},
          "mark": {"type": "point", "filled": true, "color": "#ff0000", "size": 14, "opacity": 1, "strokeWidth": 0},
          "encoding": {"x": {"field": "x", "type": "quantitative"}, "y": {"field": "r", "type": "quantitative"}}
        },
        {
          "data": {"name": "one"},
          "mark": {"type": "text", "text": "(b)", "fontSize": 115, "align": "left", "baseline": "alphabetic"},
          "encoding": {"x": {"datum": -36.7, "type": "quantitative"}, "y": {"datum": 0.37, "type": "quantitative"}}
        },
        {
          "data": {"name": "one"},
          "mark": {"type": "text", "text": "δ", "fontSize": 82, "fontStyle": "italic", "align": "right", "baseline": "alphabetic"},
          "encoding": {"x": {"datum": 13.7, "type": "quantitative"}, "y": {"datum": 0.3875, "type": "quantitative"}}
        },
        {
          "data": {"name": "one"},
          "mark": {"type": "text", "text": "=0.10", "fontSize": 82, "align": "right", "baseline": "alphabetic"},
          "encoding": {"x": {"datum": 36.9, "type": "quantitative"}, "y": {"datum": 0.3875, "type": "quantitative"}}
        }
      ]
    },
    {
      "encoding": {
        "x": {"field": "u", "type": "quantitative", "scale": {"domain": [-90, 80], "range": [38, 1738], "nice": false, "zero": false}, "axis": null},
        "y": {"field": "v", "type": "quantitative", "scale": {"domain": [-30, 80], "range": [1774, 674], "nice": false, "zero": false}, "axis": null}
      },
      "layer": [
        {
          "data": {"name": "floor"},
          "mark": {"type": "line", "interpolate": "linear-closed", "fill": "#6b0069", "stroke": "#000", "strokeWidth": 1.3},
          "encoding": {"order": {"value": null}}
        },
        {
          "data": {"name": "discs"},
          "mark": {"type": "line", "interpolate": "cardinal-closed", "strokeWidth": 1.2, "strokeJoin": "round"},
          "encoding": {
            "order": {"value": null},
            "fill": {"field": "k", "type": "nominal", "legend": null, "scale": {
              "domain": ["01","02","03","04","05","06","07","08","09","10","11","12","13","14","15","16","17","18","19","20","21","22","23","24","25"],
              "range": ["#7800a0","#8400cc","#7000ff","#2000ff","#0030ff","#0090ff","#00e0ff","#00ffc0","#00ff60","#10ff00","#80ff00","#e0ff00","#ffe000","#ffa800","#ff7000","#ff4000","#ff1800","#ff0000","#f80000","#ec0000","#dc0000","#c40000","#a80000","#900000","#780000"]}},
            "stroke": {"field": "k", "type": "nominal", "legend": null, "scale": {
              "domain": ["01","02","03","04","05","06","07","08","09","10","11","12","13","14","15","16","17","18","19","20","21","22","23","24","25"],
              "range": ["#7800a0","#8400cc","#454545","#2000ff","#454545","#0090ff","#454545","#00ffc0","#454545","#10ff00","#454545","#e0ff00","#454545","#ffa800","#454545","#ff4000","#454545","#ff0000","#454545","#ec0000","#454545","#c40000","#454545","#900000","#780000"]}}
          }
        },
        {
          "data": {"name": "e1"},
          "mark": {"type": "rule", "color": "#000", "strokeWidth": 1.4},
          "encoding": {"x2": {"field": "u2"}, "y2": {"field": "v2"}}
        },
        {
          "data": {"name": "e2"},
          "mark": {"type": "rule", "color": "#000", "strokeWidth": 2},
          "encoding": {"x2": {"field": "u2"}, "y2": {"field": "v2"}}
        },
        {
          "data": {"name": "ticks"},
          "mark": {"type": "rule", "color": "#000", "strokeWidth": 1.6},
          "encoding": {"x2": {"field": "u2"}, "y2": {"field": "v2"}}
        },
        {
          "data": {"name": "xl"},
          "mark": {"type": "text", "fontSize": 38, "angle": -57, "align": "center", "baseline": "middle"},
          "encoding": {"text": {"field": "t"}}
        },
        {
          "data": {"name": "yl"},
          "mark": {"type": "text", "fontSize": 38, "angle": 37, "align": "center", "baseline": "middle"},
          "encoding": {"text": {"field": "t"}}
        },
        {
          "data": {"name": "zl"},
          "mark": {"type": "text", "fontSize": 32, "fontStyle": "italic", "angle": -47, "align": "center", "baseline": "middle"},
          "encoding": {"text": {"field": "t"}}
        },
        {
          "data": {"values": [{"t": "x", "u": -25.5, "v": -27.6}]},
          "mark": {"type": "text", "fontSize": 100, "fontStyle": "italic", "angle": -50, "align": "center", "baseline": "middle"},
          "encoding": {"text": {"field": "t"}}
        },
        {
          "data": {"values": [{"t": "y", "u": 32.6, "v": -20.7}]},
          "mark": {"type": "text", "fontSize": 100, "fontStyle": "italic", "angle": -52, "align": "center", "baseline": "middle"},
          "encoding": {"text": {"field": "t"}}
        },
        {
          "data": {"values": [{"t": "|w|", "u": -31.5, "v": 22.7}]},
          "mark": {"type": "text", "fontSize": 95, "fontStyle": "italic", "align": "center", "baseline": "alphabetic"},
          "encoding": {"text": {"field": "t"}}
        },
        {
          "data": {"values": [{"t": "(c)", "u": -3.9, "v": 45.2}]},
          "mark": {"type": "text", "fontSize": 125, "align": "center", "baseline": "alphabetic"},
          "encoding": {"text": {"field": "t"}}
        },
        {
          "data": {"values": [{"t": "δ", "u": 15.47, "v": 31.67}]},
          "mark": {"type": "text", "fontSize": 88, "fontStyle": "italic", "align": "right", "baseline": "alphabetic"},
          "encoding": {"text": {"field": "t"}}
        },
        {
          "data": {"values": [{"t": "=0.01", "u": 35.87, "v": 31.67}]},
          "mark": {"type": "text", "fontSize": 88, "align": "right", "baseline": "alphabetic"},
          "encoding": {"text": {"field": "t"}}
        }
      ]
    }
  ],
  "resolve": {"scale": {"x": "independent", "y": "independent"}}
}
